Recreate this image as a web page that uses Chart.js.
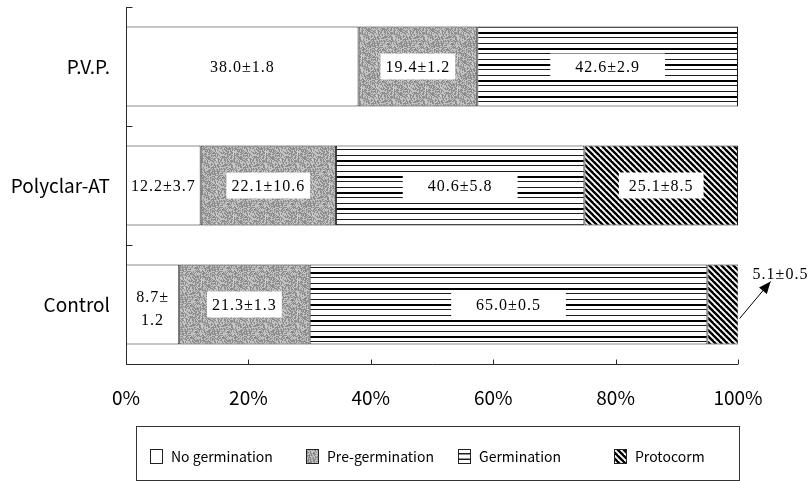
<!DOCTYPE html>
<html>
<head>
<meta charset="utf-8">
<script src="https://cdn.jsdelivr.net/npm/chart.js@4/dist/chart.umd.min.js"></script>
<style>
  html, body { margin: 0; padding: 0; background: #fff; }
  #c { display: block; }
</style>
</head>
<body>
<canvas id="c" width="808" height="481"></canvas>
<script>
// Treatments (rows) and germination stages (stacked segments)
const treatments = ['P.V.P.', 'Polyclar-AT', 'Control'];
const stages = ['No germination', 'Pre-germination', 'Germination', 'Protocorm'];

// Mean percentage of seeds in each stage, with standard errors
const noGermination     = [38.0, 12.2, 8.7];
const noGerminationSE   = [1.8, 3.7, 1.2];
const preGermination    = [19.4, 22.1, 21.3];
const preGerminationSE  = [1.2, 10.6, 1.3];
const germination       = [42.6, 40.6, 65.0];
const germinationSE     = [2.9, 5.8, 0.5];
const protocorm         = [null, 25.1, 5.1];
const protocormSE       = [null, 8.5, 0.5];

const percentTicks = ['0%', '20%', '40%', '60%', '80%', '100%'];

// ---- fill patterns -------------------------------------------------------
function makeTile(w, h, draw) {
  const t = document.createElement('canvas');
  t.width = w; t.height = h;
  draw(t.getContext('2d'), w, h);
  return t;
}
const ctx = document.getElementById('c').getContext('2d');

// fine grey screen-tone: a fixed integer hash decides which pixels are dark
const stippleTile = makeTile(32, 32, (g, w, h) => {
  g.fillStyle = '#c2c2c2'; g.fillRect(0, 0, w, h);
  for (let y = 0; y < h; y++) {
    for (let x = 0; x < w; x++) {
      let n = (x * 374761393 + y * 668265263) | 0;
      n = Math.imul(n ^ (n >>> 13), 1274126177);
      n = (n ^ (n >>> 16)) >>> 0;
      if (n % 2 === 0) { g.fillStyle = '#8c8c8c'; g.fillRect(x, y, 1, 1); }
    }
  }
  g.fillStyle = 'rgba(255,255,255,0.22)';
  g.fillRect(9, 0, 1, h); g.fillRect(24, 0, 1, h);
});
const linesTile = makeTile(4, 16, (g) => {
  g.fillStyle = '#fff'; g.fillRect(0, 0, 4, 16);
  g.fillStyle = '#000';
  g.fillRect(0, 0, 4, 2);
  g.fillStyle = '#1a1a1a';
  g.fillRect(0, 5, 4, 1);
  g.fillRect(0, 11, 4, 1);
});
const hatchTile = makeTile(6, 6, (g) => {
  g.fillStyle = '#fff'; g.fillRect(0, 0, 6, 6);
  g.strokeStyle = '#000'; g.lineWidth = 2.4;
  for (let k = -1; k <= 1; k++) {
    g.beginPath(); g.moveTo(k * 6 - 1, -1); g.lineTo(k * 6 + 7, 7); g.stroke();
  }
});
const fills = [
  '#ffffff',
  ctx.createPattern(stippleTile, 'repeat'),
  ctx.createPattern(linesTile, 'repeat'),
  ctx.createPattern(hatchTile, 'repeat')
];

const AXIS_FONT = '"Noto Sans CJK JP", "Noto Sans", sans-serif';
const VALUE_FONT = '"Liberation Serif", "DejaVu Serif", serif';

// ---- plugins -------------------------------------------------------------
// Axis lines with short inward tick marks
const axisLines = {
  id: 'axisLines',
  afterDatasetsDraw(chart) {
    const c = chart.ctx, a = chart.chartArea;
    const xs = chart.scales.x, ys = chart.scales.y;
    c.save();
    c.strokeStyle = '#2a2a2a'; c.lineWidth = 1;
    const L = Math.round(a.left) + 0.5, B = Math.round(a.bottom) + 0.5;
    c.beginPath();
    c.moveTo(L, a.top); c.lineTo(L, B); c.lineTo(a.right, B);
    const half = (ys.getPixelForValue(1) - ys.getPixelForValue(0)) / 2;
    for (let i = 0; i <= treatments.length; i++) {
      const y = Math.round(ys.getPixelForValue(0) - half + i * 2 * half) + 0.5;
      c.moveTo(L, y); c.lineTo(L + 6, y);
    }
    xs.ticks.forEach((t) => {
      const x = Math.round(xs.getPixelForValue(t.value)) + 0.5;
      c.moveTo(x, B); c.lineTo(x, B - 5);
    });
    c.stroke();
    c.restore();
  }
};

// Mean ± SE text on each segment
const segmentLabels = {
  id: 'segmentLabels',
  afterDatasetsDraw(chart) {
    const c = chart.ctx;
    c.save();
    c.font = '16px ' + VALUE_FONT;
    c.letterSpacing = '1px';
    c.textAlign = 'center';
    c.textBaseline = 'middle';
    chart.data.datasets.forEach((ds, di) => {
      const meta = chart.getDatasetMeta(di);
      meta.data.forEach((bar, i) => {
        const v = ds.data[i];
        if (v == null) return;
        const se = ds.se[i];
        const txt = v.toFixed(1) + '±' + se.toFixed(1);
        const left = Math.min(bar.x, bar.base), right = Math.max(bar.x, bar.base);
        const segW = right - left, cx = (left + right) / 2, cy = bar.y;
        const tw = c.measureText(txt).width;
        if (segW < tw * 0.7) {
          // too narrow: label outside with an arrow
          c.strokeStyle = '#000'; c.fillStyle = '#000'; c.lineWidth = 1;
          const x0 = right + 1, y0 = cy + 14, x1 = right + 32, y1 = cy - 23;
          c.beginPath(); c.moveTo(x0, y0); c.lineTo(x1, y1); c.stroke();
          const ang = Math.atan2(y1 - y0, x1 - x0), hl = 13, hw = 0.4;
          c.beginPath();
          c.moveTo(x1, y1);
          c.lineTo(x1 - hl * Math.cos(ang - hw), y1 - hl * Math.sin(ang - hw));
          c.lineTo(x1 - hl * Math.cos(ang + hw), y1 - hl * Math.sin(ang + hw));
          c.closePath(); c.fill();
          c.textAlign = 'left';
          c.fillText(txt, right + 14, cy - 30);
          c.textAlign = 'center';
          return;
        }
        if (segW < tw + 6) {
          // two lines inside a narrow segment
          c.fillStyle = '#000';
          c.fillText(v.toFixed(1) + '±', cx, cy - 7);
          c.fillText(se.toFixed(1), cx, cy + 16);
          return;
        }
        const bw = Math.min(tw + 2 * ds.labelPad, segW - 3), bh = 26;
        c.fillStyle = '#fff';
        c.fillRect(cx - bw / 2, cy - bh / 2, bw, bh);
        c.fillStyle = '#000';
        c.fillText(txt, cx, cy + 1);
      });
    });
    c.restore();
  }
};

// Boxed legend under the axis
const boxedLegend = {
  id: 'boxedLegend',
  afterDraw(chart, args, opts) {
    const c = chart.ctx;
    c.save();
    c.strokeStyle = '#333'; c.lineWidth = 1;
    c.strokeRect(opts.left + 0.5, opts.top + 0.5, opts.width, opts.height);
    c.font = '14px ' + AXIS_FONT;
    c.textBaseline = 'middle';
    c.textAlign = 'left';
    const cy = opts.top + opts.itemY;
    chart.data.datasets.forEach((ds, i) => {
      const x = opts.left + opts.slots[i];
      c.fillStyle = ds.backgroundColor;
      c.fillRect(x, cy - 7, 12, 14);
      c.strokeStyle = '#222';
      c.strokeRect(x + 0.5, cy - 6.5, 12, 14);
      if (i === 2) {
        c.beginPath();
        c.moveTo(x, cy - 2); c.lineTo(x + 12, cy - 2);
        c.moveTo(x, cy + 3); c.lineTo(x + 12, cy + 3);
        c.stroke();
      }
      c.fillStyle = '#000';
      c.fillText(ds.label, x + 21, cy + 1);
    });
    c.restore();
  }
};

// ---- chart ---------------------------------------------------------------
const values = [noGermination, preGermination, germination, protocorm];
const errors = [noGerminationSE, preGerminationSE, germinationSE, protocormSE];
const pads = [4, 5, 25, 10];

new Chart(ctx, {
  type: 'bar',
  data: {
    labels: treatments,
    datasets: stages.map((name, i) => ({
      label: name,
      data: values[i],
      se: errors[i],
      labelPad: pads[i],
      backgroundColor: fills[i],
      borderColor: '#1a1a1a',
      borderWidth: 1,
      borderSkipped: false,
      categoryPercentage: 1,
      barPercentage: 0.672
    }))
  },
  options: {
    indexAxis: 'y',
    responsive: false,
    animation: false,
    devicePixelRatio: 1,
    layout: { padding: { top: 7, right: 70, bottom: 0, left: 0 } },
    scales: {
      x: {
        stacked: true, min: 0, max: 100,
        grid: { display: false, drawTicks: false },
        border: { display: false },
        ticks: {
          stepSize: 20,
          padding: 22,
          color: '#000',
          font: { family: AXIS_FONT, size: 19 },
          callback: (v, i) => percentTicks[i]
        },
        afterFit(s) { s.height = 117; }
      },
      y: {
        stacked: true,
        grid: { display: false, drawTicks: false },
        border: { display: false },
        ticks: {
          padding: 16,
          color: '#000',
          font: { family: AXIS_FONT, size: 19 }
        },
        afterFit(s) { s.width = 126; s.paddingTop = 0; s.paddingBottom = 0; }
      }
    },
    plugins: {
      legend: { display: false },
      tooltip: { enabled: false },
      boxedLegend: { left: 136, top: 426, width: 603, height: 54, itemY: 30, slots: [14, 170, 322, 478] }
    }
  },
  plugins: [axisLines, segmentLabels, boxedLegend]
});
</script>
</body>
</html>
